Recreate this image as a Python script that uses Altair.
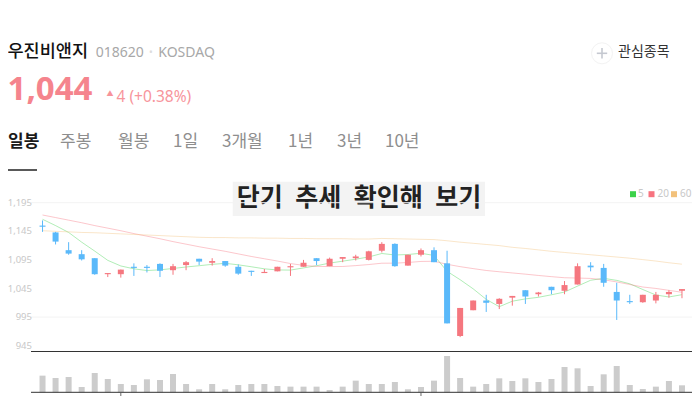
import altair as alt
import pandas as pd

# ---- data ----
opens = [1155, 1143, 1112, 1105, 1098, 1070, 1070, 1083, 1083, 1088,
         1077, 1086, 1097, 1090, 1093, 1083, 1076, 1072, 1075, 1082,
         1083, 1098, 1084, 1097, 1098, 1095, 1111, 1123, 1085, 1104,
         1112, 1089, 962, 1007, 1024, 1018, 1029, 1042, 1035, 1048,
         1041, 1052, 1085, 1081, 1039, 1023, 1021, 1024, 1035, 1041]
highs = [1164, 1144, 1126, 1112, 1098, 1072, 1078, 1089, 1086, 1089,
         1088, 1093, 1097, 1098, 1093, 1087, 1076, 1079, 1083, 1088,
         1095, 1098, 1099, 1100, 1104, 1111, 1126, 1124, 1104, 1115,
         1117, 1111, 1011, 1024, 1034, 1028, 1032, 1042, 1039, 1048,
         1058, 1089, 1091, 1088, 1055, 1034, 1034, 1039, 1042, 1044]
lows = [1144, 1122, 1104, 1094, 1069, 1065, 1064, 1067, 1073, 1065,
        1069, 1077, 1086, 1085, 1083, 1069, 1067, 1072, 1075, 1067,
        1083, 1086, 1084, 1091, 1094, 1094, 1108, 1083, 1085, 1101,
        1091, 984, 960, 1007, 1004, 1009, 1015, 1018, 1031, 1035,
        1035, 1052, 1075, 1048, 990, 1018, 1020, 1019, 1029, 1028]
closes = [1153, 1127, 1106, 1096, 1070, 1072, 1078, 1081, 1081, 1076,
          1084, 1091, 1092, 1093, 1085, 1071, 1074, 1074, 1083, 1084,
          1090, 1093, 1097, 1100, 1101, 1110, 1123, 1084, 1104, 1112,
          1091, 984, 1011, 1024, 1020, 1027, 1032, 1031, 1038, 1042,
          1051, 1084, 1082, 1055, 1024, 1021, 1034, 1034, 1039, 1044]
volumes = [150, 129, 138, 48, 174, 120, 75, 66, 117, 111,
           165, 75, 27, 75, 27, 66, 75, 75, 57, 51,
           51, 51, 21, 51, 105, 75, 75, 93, 27, 48,
           105, 327, 129, 51, 75, 126, 102, 126, 93, 120,
           228, 216, 57, 162, 237, 66, 30, 51, 102, 63]
ma5 = [1166, 1155, 1143, 1126, 1110.4, 1094.2, 1084.4, 1079.4, 1076.4, 1077.6,
       1080, 1082.6, 1084.8, 1087.2, 1089, 1086.4, 1083, 1079.4, 1077.4, 1077.2,
       1081, 1084.8, 1089.4, 1092.8, 1096.2, 1100.2, 1106.2, 1103.6, 1104.4, 1106.6,
       1102.8, 1075, 1060.4, 1044.4, 1026, 1013.2, 1022.8, 1026.8, 1029.6, 1034,
       1038.8, 1049.2, 1059.4, 1062.8, 1059.2, 1053.2, 1043.2, 1033.6, 1030.2, 1034.2]
ma20 = [1173.5, 1169, 1164.5, 1160, 1155, 1150.5, 1146, 1141, 1136.5, 1132,
        1127, 1122.5, 1118, 1114, 1110, 1105.5, 1101, 1097, 1093, 1088.6,
        1085.4, 1083.7, 1083.3, 1083.5, 1085, 1086.9, 1089.2, 1089.3, 1090.5, 1092.3,
        1092.6, 1087.3, 1083.2, 1079.8, 1076.5, 1074.3, 1072.2, 1070.1, 1067.8, 1065.7,
        1063.8, 1063.3, 1062.6, 1060.3, 1056.5, 1052, 1047.6, 1045.1, 1041.8, 1038.4]
ma60 = [1146, 1145, 1144, 1143, 1142.5, 1141.5, 1140.5, 1139.5, 1138.5, 1137.5,
        1136.5, 1135.5, 1134.5, 1134, 1134, 1133.5, 1133.5, 1133, 1133, 1132.5,
        1132.5, 1132, 1132, 1132, 1131.5, 1131.5, 1132.5, 1132, 1131.5, 1131,
        1130.5, 1128.5, 1126, 1124, 1122, 1120, 1117, 1115, 1112.5, 1110,
        1108, 1106, 1104, 1102, 1100, 1098, 1095.5, 1093, 1090, 1087.5]
price_ticks = [1195, 1145, 1095, 1045, 995, 945]
grid_values = [1195, 995]
month_ticks = [6, 29]
ma_names = ["5", "20", "60"]
tabs = ["일봉", "주봉", "월봉", "1일", "3개월", "1년", "3년", "10년"]

RED = "#f5777f"
BLUE = "#5ab9fa"
MA_COLORS = ["#3cd24a", "#f7737f", "#f2c17b"]
KR = "Noto Sans CJK KR"

n = len(closes)
candles = pd.DataFrame({
    "i": list(range(n)), "open": opens, "high": highs, "low": lows,
    "close": closes, "vol": volumes,
})
candles["dir"] = ["up" if c >= o else "down" for o, c in zip(opens, closes)]
ma = pd.DataFrame({
    "i": list(range(n)) * 3,
    "ma": ["5"] * n + ["20"] * n + ["60"] * n,
    "v": ma5 + ma20 + ma60,
})

X = alt.X("i:Q", scale=alt.Scale(domain=[-0.5, n - 0.5], range=[23, 685.5], nice=False, zero=False), axis=None)


def py(field):
    return alt.Y(f"{field}:Q", scale=alt.Scale(domain=[945, 1195], range=[337.7, 194.7], nice=False, zero=False), axis=None)


dir_scale = alt.Scale(domain=["up", "down"], range=[RED, BLUE])
ma_scale = alt.Scale(domain=ma_names, range=MA_COLORS)
one = pd.DataFrame({"a": [0]})


def txt(text, x, y, size, color, weight="normal", font=KR, align="left"):
    return alt.Chart(pd.DataFrame({"t": [text]})).mark_text(
        align=align, baseline="middle", fontSize=size, font=font, fontWeight=weight, color=color
    ).encode(x=alt.value(x), y=alt.value(y), text="t:N")


layers = []
# header
layers.append(txt("우진비앤지", -0.5, 43.7, 17.5, "#111111", weight=500))
layers.append(txt("018620", 87.7, 45.3, 14, "#a8a8a8", font="Noto Sans"))
layers.append(txt("•", 141, 45.3, 10, "#dddddd", font="Noto Sans"))
layers.append(txt("KOSDAQ", 150.3, 45.3, 14, "#a8a8a8", font="Noto Sans"))
layers.append(txt("1,044", -0.5, 81.5, 33, "#f5848d", weight="bold", font="Noto Sans"))
layers.append(txt("▲", 98.5, 85.5, 7, "#f7939b"))
layers.append(txt("4 (+0.38%)", 108.5, 89, 15.5, "#f7959c", font="Noto Sans"))
tab_x = [0, 52, 110, 165, 214, 280, 329, 377]
for k, (t, xx) in enumerate(zip(tabs, tab_x)):
    layers.append(txt(t, xx, 133.7, 17, "#1a1a1a" if k == 0 else "#8e8e8e", weight="bold" if k == 0 else "normal"))
layers.append(alt.Chart(one).mark_rule(color="#222222", strokeWidth=1.5).encode(
    x=alt.value(0), x2=alt.value(29), y=alt.value(162)))
# watchlist button
layers.append(alt.Chart(one).mark_point(shape="circle", size=441, filled=False, color="#eeeeee", strokeWidth=1).encode(
    x=alt.value(594), y=alt.value(45.3)))
layers.append(alt.Chart(one).mark_rule(color="#c5c8d0", strokeWidth=1.6).encode(
    x=alt.value(588.8), x2=alt.value(599.2), y=alt.value(45.3)))
layers.append(alt.Chart(one).mark_rule(color="#c5c8d0", strokeWidth=1.6).encode(
    x=alt.value(594), y=alt.value(40.1), y2=alt.value(50.5)))
layers.append(txt("관심종목", 610, 44, 14, "#333333"))

# chart title box
layers.append(alt.Chart(one).mark_rect(color="#f3f3f3").encode(
    x=alt.value(224.7), x2=alt.value(477), y=alt.value(173.7), y2=alt.value(208)))
layers.append(txt("단기\u2002추세\u2002확인해\u2002보기", 350.9, 190, 25, "#222222", weight="bold", align="center"))

# grid and y labels
layers.append(alt.Chart(pd.DataFrame({"g": grid_values})).mark_rule(color="#f3f3f3").encode(
    y=py("g"), x=alt.value(23), x2=alt.value(686)))
layers.append(alt.Chart(pd.DataFrame({"p": price_ticks})).mark_text(
    align="right", baseline="middle", fontSize=9.5, font="Noto Sans", color="#c8c8c8"
).encode(y=py("p"), x=alt.value(24), text=alt.Text("p:Q", format=",")))

# moving averages
layers.append(alt.Chart(ma).mark_line(strokeWidth=1, opacity=0.4).encode(
    x=X, y=py("v"), color=alt.Color("ma:N", scale=ma_scale, legend=None)))

# candles
layers.append(alt.Chart(candles).mark_rule(strokeWidth=1).encode(
    x=X, y=py("low"), y2="high:Q", color=alt.Color("dir:N", scale=dir_scale, legend=None)))
layers.append(alt.Chart(candles).mark_bar(size=6).encode(
    x=X, y=py("open"), y2="close:Q", color=alt.Color("dir:N", scale=dir_scale, legend=None)))

# volume
layers.append(alt.Chart(candles).mark_bar(size=6, color="#cccccc", orient="vertical").encode(
    x=X, y=alt.Y("vol:Q", scale=alt.Scale(domain=[0, 327], range=[384.3, 348], nice=False, zero=False), axis=None)))

# panel lines and ticks
layers.append(alt.Chart(one).mark_rule(color="#333333", strokeWidth=1).encode(
    x=alt.value(23), x2=alt.value(688), y=alt.value(343.5)))
layers.append(alt.Chart(one).mark_rule(color="#333333", strokeWidth=1).encode(
    x=alt.value(23), x2=alt.value(688), y=alt.value(384.3)))
layers.append(alt.Chart(pd.DataFrame({"i": month_ticks})).mark_rule(color="#666666", strokeWidth=1).encode(
    x=X, y=alt.value(384.8), y2=alt.value(388)))

# moving-average legend (top right)
leg_sq_x = [625, 643.5, 666]
leg_tx_x = [630, 649.5, 672]
for name, col, sx, tx in zip(ma_names, MA_COLORS, leg_sq_x, leg_tx_x):
    layers.append(alt.Chart(one).mark_square(size=36, filled=True, opacity=1, color=col).encode(
        x=alt.value(sx), y=alt.value(186.2)))
    layers.append(txt(name, tx, 186.2, 10, "#c8c8c8", font="Noto Sans"))

chart = alt.layer(*layers).resolve_scale(y="independent", color="independent").properties(
    width=684, height=392, padding=0, autosize=alt.AutoSizeParams(type="none")
).configure_view(stroke=None)

chart.save("out.html", embed_options={"renderer": "svg", "actions": False})
